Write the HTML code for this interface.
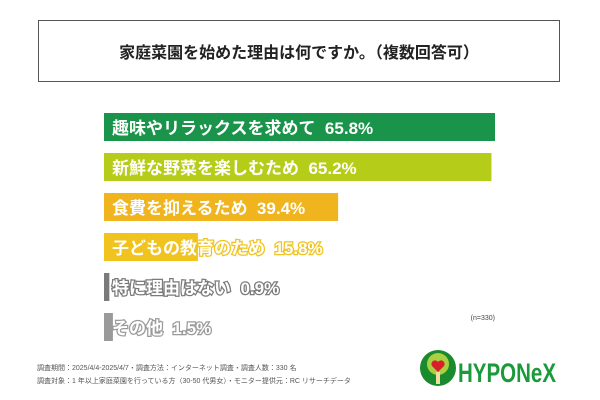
<!DOCTYPE html>
<html><head><meta charset="utf-8"><style>
body{margin:0;width:600px;height:400px;background:#fff;overflow:hidden;font-family:"Liberation Sans","Noto Sans CJK JP",sans-serif;position:relative}
.title{position:absolute;left:38px;top:20px;width:522px;height:62px;border:1px solid #555;box-sizing:border-box;display:flex;align-items:center;justify-content:center;font-size:16px;font-weight:bold;color:#222}
.foot{position:absolute;left:37px;font-size:7px;color:#555}
</style></head><body>
<div class="title">家庭菜園を始めた理由は何ですか。（複数回答可）</div>
<svg id="chart" width="600" height="400" style="position:absolute;left:0;top:0"></svg>
<div class="foot" style="top:363px">調査期間：2025/4/4-2025/4/7・調査方法：インターネット調査・調査人数：330 名</div>
<div class="foot" style="top:376px">調査対象：1 年以上家庭菜園を行っている方（30-50 代男女）・モニター提供元：RC リサーチデータ</div>
<svg style="position:absolute;left:416px;top:346px" width="150" height="48">
<circle cx="22" cy="22" r="18" fill="#1a8a2e"/><circle cx="22" cy="18" r="11" fill="#a8d040"/><path d="M22 26 l-6-6 a3.5 3.5 0 0 1 6-4 a3.5 3.5 0 0 1 6 4z" fill="#d8202a"/><rect x="20" y="26" width="4" height="12" fill="#f0e0a0"/>
<text x="42" y="36" font-size="27" font-weight="bold" fill="#1a9a3a" font-family="Liberation Sans Narrow,Liberation Sans,sans-serif" textLength="98" lengthAdjust="spacingAndGlyphs">HYPONeX</text></svg>
<script>
const categories=["趣味やリラックスを求めて","新鮮な野菜を楽しむため","食費を抑えるため","子どもの教育のため","特に理由はない","その他"];
const values=[65.8,65.2,39.4,15.8,0.9,1.5];
const colors=["#1a944a","#b5cc18","#f0b41e","#f0c31e","#7a7a7a","#9a9a9a"];
const svg=document.getElementById('chart');
const NS="http://www.w3.org/2000/svg";
const x0=104,scale=391/65.8;
const xw=v=>v*scale;
const yb=i=>113+i*40;
categories.forEach((c,i)=>{
 const r=document.createElementNS(NS,'rect');
 r.setAttribute('x',x0);r.setAttribute('y',yb(i));r.setAttribute('width',Math.max(xw(values[i]),4));r.setAttribute('height',28);r.setAttribute('fill',colors[i]);
 
 
 svg.appendChild(r);
 const t=document.createElementNS(NS,'text');
 t.setAttribute('x',112);t.setAttribute('y',yb(i)+21);t.setAttribute('font-size','17');t.setAttribute('font-weight','bold');t.setAttribute('fill','#fff');
 if(i>=3){t.setAttribute('stroke',colors[i]);t.setAttribute('stroke-width','2.5');t.setAttribute('paint-order','stroke');}
 t.textContent=c+'  '+values[i].toFixed(1)+'%';
 t.setAttribute('xml:space','preserve');t.style.whiteSpace='pre';
 
 
 svg.appendChild(t);
});
const n=document.createElementNS(NS,'text');
n.setAttribute('x',495);n.setAttribute('y',320);n.setAttribute('font-size','7');n.setAttribute('fill','#444');n.setAttribute('text-anchor','end');n.textContent='(n=330)';


svg.appendChild(n);
</script>
</body></html>
